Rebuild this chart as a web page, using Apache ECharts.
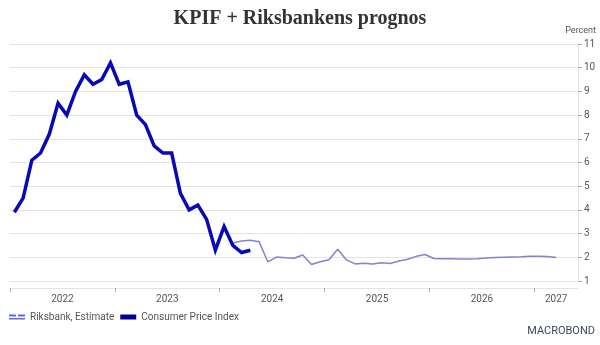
<!DOCTYPE html>
<html>
<head>
<meta charset="utf-8">
<script src="https://cdn.jsdelivr.net/npm/echarts@6/dist/echarts.min.js"></script>
<style>html,body{margin:0;padding:0;background:#fff}#c{width:600px;height:345px}</style>
</head>
<body>
<div id="c"></div>
<script>
// Consumer Price Index (KPIF), monthly from Jan 2022
var cpiStart = [2022, 1];
var cpiValues = [3.9, 4.5, 6.1, 6.4, 7.2, 8.5, 8.0, 9.0, 9.7, 9.3, 9.5, 10.2,
                 9.3, 9.4, 8.0, 7.6, 6.7, 6.4, 6.4, 4.7, 4.0, 4.2, 3.6, 2.3,
                 3.3, 2.5, 2.2, 2.3];
// Riksbank estimate, monthly from Feb 2024
var rbStart = [2024, 2];
var rbValues = [2.60, 2.69, 2.72, 2.66, 1.81, 2.01, 1.98, 1.96, 2.10, 1.70, 1.81,
                1.90, 2.34, 1.89, 1.72, 1.75, 1.72, 1.77, 1.74, 1.84, 1.92, 2.04, 2.12,
                1.95, 1.94, 1.94, 1.93, 1.93, 1.94, 1.97, 1.99, 2.00, 2.01, 2.02, 2.04,
                2.04, 2.03, 1.99];
var yearLabels = ['2022', '2023', '2024', '2025', '2026', '2027'];
var seriesNames = ['Riksbank, Estimate', 'Consumer Price Index'];

// x position in fractional years (mid-month)
function toSeries(start, vals) {
  return vals.map(function (v, i) {
    var m = start[1] - 1 + i;
    var y = start[0] + Math.floor(m / 12);
    return [y + ((m % 12) + 0.5) / 12, v];
  });
}
var xMin = 2022;
var xMax = 2027 + 5 / 12;
var tickVals = yearLabels.map(function (y) { return +y; });
var labelVals = yearLabels.map(function (y, i) {
  var a = +y;
  var b = i < yearLabels.length - 1 ? a + 1 : xMax;
  return (a + b) / 2;
});

var chart = echarts.init(document.getElementById('c'), null, {renderer: 'canvas'});
chart.setOption({
  animation: false,
  backgroundColor: '#fff',
  title: {
    text: 'KPIF + Riksbankens prognos',
    left: 'center', top: 4,
    textStyle: {fontFamily: 'Liberation Serif', fontWeight: 'bold', fontSize: 20, color: '#333'}
  },
  grid: {left: 10, right: 22, top: 44, bottom: 64, containLabel: false},
  legend: {
    left: 4, top: 307, itemGap: 6, itemWidth: 16, itemHeight: 5,
    textStyle: {fontFamily: 'Roboto', fontSize: 10, color: '#555'},
    data: [
      {name: seriesNames[0], icon: 'path://M0,0H7V2H0Z M9,0H16V2H9Z M0,3.5H16V5H0Z', itemStyle: {color: '#6464dc'}},
      {name: seriesNames[1], icon: 'rect', itemStyle: {color: '#000096'}}
    ]
  },
  xAxis: {
    type: 'value', min: xMin, max: xMax, offset: 7,
    axisLine: {show: true, lineStyle: {color: '#e3e3e3', width: 1}},
    axisTick: {show: true, customValues: tickVals, length: 4, lineStyle: {color: '#aaa'}},
    axisLabel: {
      customValues: labelVals, margin: 6,
      fontFamily: 'Roboto', fontSize: 10, color: '#555',
      formatter: function (v) { return String(Math.floor(v)); }
    },
    splitLine: {show: false}
  },
  yAxis: {
    type: 'value', position: 'right', min: 1, max: 11, interval: 1,
    axisLine: {show: true, lineStyle: {color: '#e3e3e3'}},
    axisTick: {show: true, length: 4, lineStyle: {color: '#aaa'}},
    axisLabel: {fontFamily: 'Roboto', fontSize: 10, color: '#555', margin: 6},
    splitLine: {show: true, lineStyle: {color: '#e3e3e3', width: 1}}
  },
  graphic: [
    {type: 'text', right: 4, top: 26, style: {text: 'Percent', fontFamily: 'Roboto', fontSize: 9, fill: '#555'}},
    {type: 'text', right: 5, top: 326, style: {text: 'MACROBOND', fontFamily: 'Roboto', fontSize: 11, fill: '#3d4a5c'}}
  ],
  series: [
    {
      name: seriesNames[0], type: 'line', showSymbol: false, symbol: 'none',
      data: toSeries(rbStart, rbValues), z: 2,
      lineStyle: {color: '#8282d2', width: 1.5}, itemStyle: {color: '#6464dc'}
    },
    {
      name: seriesNames[1], type: 'line', showSymbol: false, symbol: 'none',
      data: toSeries(cpiStart, cpiValues), z: 3,
      lineStyle: {color: '#0808b8', width: 3.5, join: 'miter'}, itemStyle: {color: '#000096'}
    }
  ]
});
</script>
</body>
</html>
